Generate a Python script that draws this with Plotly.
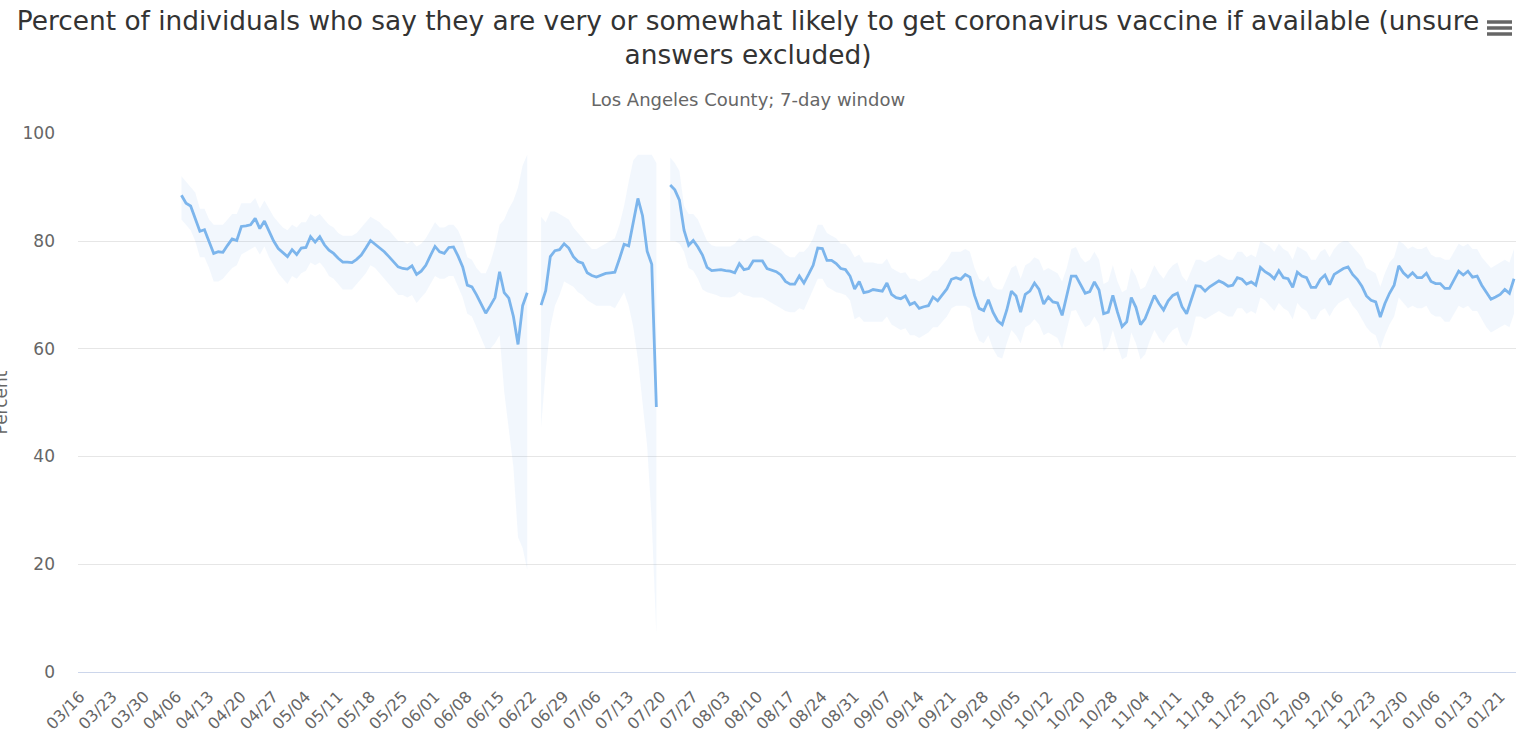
import datetime as dt
import plotly.graph_objects as go

# ---------------- categories (daily, a few days absent from the source) ----------------
start_date = dt.date(2020, 3, 16)
end_date = dt.date(2021, 1, 24)
missing_days = [dt.date(2020, 10, 16), dt.date(2020, 10, 24), dt.date(2021, 1, 17)]
categories = []
_d = start_date
while _d <= end_date:
    if _d not in missing_days:
        categories.append(_d.strftime("%m/%d"))
    _d += dt.timedelta(days=1)

tick_labels = ["03/16", "03/23", "03/30", "04/06", "04/13", "04/20", "04/27", "05/04",
               "05/11", "05/18", "05/25", "06/01", "06/08", "06/15", "06/22", "06/29",
               "07/06", "07/13", "07/20", "07/27", "08/03", "08/10", "08/17", "08/24",
               "08/31", "09/07", "09/14", "09/21", "09/28", "10/05", "10/12", "10/20",
               "10/28", "11/04", "11/11", "11/18", "11/25", "12/02", "12/09", "12/16",
               "12/23", "12/30", "01/06", "01/13", "01/21"]

# ---------------- series: segment 1 (04/07 - 06/21) ----------------
seg1_value = [88.5, 87.0, 86.5, 84.2, 81.8, 82.1, 80.0, 77.7, 78.0, 77.9,
              79.2, 80.4, 80.1, 82.7, 82.8, 83.0, 84.2, 82.3, 83.7, 81.8,
              80.0, 78.6, 77.8, 77.1, 78.4, 77.5, 78.7, 78.8, 80.8, 79.8,
              80.8, 79.3, 78.3, 77.7, 76.8, 76.1, 76.1, 76.0, 76.6, 77.4,
              78.7, 80.1, 79.4, 78.7, 78.0, 77.1, 76.2, 75.2, 74.9, 74.8,
              75.4, 73.8, 74.4, 75.5, 77.3, 79.0, 78.0, 77.7, 78.8, 78.9,
              77.2, 75.2, 71.8, 71.5, 70.0, 68.3, 66.6, 68.0, 69.5, 74.3,
              70.4, 69.4, 66.0, 60.8, 68.0, 70.4]
seg1_upper = [92, 91, 90, 89, 86, 86, 84, 83, 83, 83,
              84, 85, 85, 87, 87, 87, 88, 86, 87.5, 86,
              84.5, 83.5, 82.5, 82, 83, 82.5, 83.5, 83.5, 85, 84.5,
              85, 84, 83, 82.5, 81.5, 81, 81, 81, 81.5, 82.5,
              83.5, 84.5, 84, 83.5, 82.5, 82, 81, 80, 80, 79.5,
              80, 79, 79.5, 80.5, 82, 83.5, 82.5, 82.5, 83, 83,
              82, 80, 77, 76.5, 75, 74, 74, 76, 79, 83,
              84, 86, 87.5, 90, 94, 96]
seg1_lower = [84, 83, 82, 80, 77, 77, 75, 72.5, 72.5, 73,
              74, 75, 75.5, 77.5, 78, 78.5, 79, 77.5, 79, 77,
              75.5, 74, 73, 72, 73.5, 73, 74, 74.5, 76, 75.5,
              76, 75, 73.5, 73, 72, 71, 71, 71, 72, 73,
              74, 75.5, 75, 74, 73, 72, 71, 70, 70, 69.5,
              70, 68.5, 69.5, 70.5, 72, 73.5, 73, 73, 73.5, 73.5,
              71.5, 69.5, 66.5, 66, 64, 62, 60, 60, 61, 62.5,
              52, 45, 38, 25, 23, 19]

# ---------------- segment 2 (06/24 - 07/19) ----------------
seg2_value = [68.1, 70.8, 77.1, 78.2, 78.4, 79.5, 78.7, 77.1, 76.2, 75.9,
              74.1, 73.6, 73.3, 73.6, 74.0, 74.1, 74.2, 76.7, 79.4, 79.1,
              83.4, 87.9, 84.7, 78.1, 75.7, 49.2]
seg2_upper = [84.5, 83.5, 85.5, 85.5, 85, 84.5, 84, 82.5, 81.5, 80.5,
              79.5, 78.5, 78.5, 79, 79.5, 80, 80.5, 83, 86.5, 91,
              95, 96, 96, 96, 96, 94.5]
seg2_lower = [45.5, 56, 64, 68, 70, 72.5, 72, 71.5, 70.5, 70,
              69, 68.5, 68, 68, 68, 68, 67.5, 69, 70.5, 68,
              64, 58, 50, 42, 28, 7]

# ---------------- segment 3 (07/22 - 01/24) ----------------
seg3_value = [90.4, 89.5, 87.6, 82.0, 79.2, 80.1, 78.9, 77.4, 75.1, 74.5,
              74.6, 74.7, 74.5, 74.4, 74.1, 75.8, 74.7, 74.9, 76.3, 76.3,
              76.3, 74.9, 74.6, 74.3, 73.7, 72.5, 72.0, 72.0, 73.5, 72.2,
              73.8, 75.5, 78.7, 78.6, 76.4, 76.4, 75.8, 74.9, 74.7, 73.5,
              71.1, 72.5, 70.4, 70.6, 71.0, 70.8, 70.7, 72.2, 70.1, 69.5,
              69.3, 69.8, 68.2, 68.6, 67.5, 67.8, 68.0, 69.6, 68.9, 70.0,
              71.1, 72.9, 73.2, 72.9, 73.8, 73.3, 69.9, 67.5, 67.1, 69.1,
              66.8, 65.2, 64.5, 67.2, 70.7, 69.8, 66.8, 70.1, 70.7, 72.2,
              71.0, 68.3, 69.6, 68.7, 68.5, 66.2, 69.9, 73.5, 73.5, 71.8,
              70.3, 70.6, 72.4, 70.9, 66.5, 66.8, 69.9, 66.8, 64.1, 65.0,
              69.5, 67.7, 64.5, 65.6, 67.8, 69.9, 68.4, 67.2, 68.9, 69.9,
              70.3, 67.8, 66.5, 68.9, 71.7, 71.6, 70.7, 71.5, 72.0, 72.6,
              72.2, 71.6, 71.8, 73.2, 72.9, 72.0, 72.4, 71.8, 75.1, 74.3,
              73.8, 73.0, 74.5, 73.2, 73.0, 71.4, 74.2, 73.5, 73.2, 71.4,
              71.4, 72.9, 73.7, 71.9, 73.8, 74.4, 74.9, 75.2, 73.8, 72.9,
              71.6, 69.8, 69.0, 68.7, 65.9, 68.4, 70.3, 71.8, 75.4, 74.1,
              73.3, 74.1, 73.2, 73.2, 74.0, 72.5, 72.1, 72.1, 71.2, 71.2,
              72.9, 74.4, 73.7, 74.4, 73.3, 73.5, 71.8, 70.4, 69.2, 69.6,
              70.1, 71.0, 70.3, 73.0]
seg3_upper = [95.5, 94.5, 93, 86.5, 85, 85, 84, 82, 80, 79.2,
              79, 79, 79, 79, 79.5, 80.5, 80, 80.5, 81, 81,
              80.5, 80, 79.5, 79, 78.5, 77.5, 77, 77, 78, 78,
              79, 80.5, 83, 83, 81.5, 81, 80.5, 79.5, 79.5, 78.5,
              77, 77.5, 76, 76, 76, 75.8, 75.8, 76.7, 75, 74.5,
              74, 74.2, 73, 73, 72.5, 73, 73.5, 74.5, 74.5, 75.5,
              76.5, 78, 78, 78, 78.5, 78, 75, 73, 72.5, 73.5,
              71.5, 71, 71, 73, 75, 75.5, 73, 75.5, 76, 77,
              76.5, 74.5, 75, 74.5, 74, 72.5, 75, 78.5, 78.9, 77,
              76, 76.5, 78, 76.5, 72, 72.5, 75.5, 72.5, 70.5, 71,
              75, 73.5, 71, 71.5, 73.5, 75.5, 74, 73, 74.5, 75.5,
              76, 73.5, 72.5, 74.5, 76.5, 76.5, 76, 76.5, 77, 77.5,
              77, 76.5, 76.5, 78, 78, 77, 77.5, 77, 80, 79.5,
              79, 78, 79.5, 78.5, 78, 76.5, 79, 78.5, 78, 76.5,
              76.5, 78, 78.5, 77, 78.5, 79.5, 80, 80, 79, 78,
              77, 75, 74.5, 74, 71.5, 74, 76, 77, 80, 79.5,
              78.5, 79, 78.5, 78.5, 79, 77.5, 77, 77, 76.5, 76.5,
              78, 79.5, 79, 79.5, 78.5, 78.5, 77, 76, 75, 75.5,
              76, 76.5, 76, 78.5]
seg3_lower = [80, 80, 79.5, 78, 75, 74.5, 73, 71, 70.5, 70.3,
              70, 69.6, 69.6, 69.5, 69.8, 70.6, 70, 69.8, 69.5, 69.5,
              69.5, 69, 68.5, 68, 67.5, 67, 66.8, 66.8, 67.5, 67.2,
              69, 71, 73, 73, 71.5, 71, 70.5, 70.3, 70, 69,
              65.5, 66, 65, 65, 65, 65, 65, 66, 64.5, 64,
              63.5, 63.8, 62.5, 62.5, 62, 62.5, 63, 64, 64, 65,
              66, 67.5, 68, 68, 68, 67.5, 63.5, 61.5, 61, 62.5,
              60, 58.5, 58.2, 61, 63.5, 62.5, 61, 64, 64.5, 65.5,
              64.5, 62.5, 63, 62.5, 62, 60, 63.5, 67, 67.2, 65.5,
              64, 64.5, 66, 64.5, 59.5, 60.5, 63.5, 60.5, 58, 58.5,
              63, 61, 58, 59, 61.5, 63.5, 62, 61, 62.5, 63.5,
              64, 61.5, 60.5, 62.5, 66, 66, 65.5, 66, 66.5, 67,
              66.5, 66, 66, 67.5, 67.5, 66.5, 67, 66.5, 69.5, 69,
              68, 67, 68.5, 67.5, 67, 65.5, 68.5, 67.5, 67, 65.5,
              65.5, 67, 67.5, 66, 67.5, 68.5, 69, 69.5, 68, 67,
              65.5, 64, 63, 62.5, 60, 62.5, 64.5, 66, 69.5, 68.5,
              67.5, 68, 67.5, 67.5, 68, 66.5, 66, 66, 65, 65,
              66.5, 68, 67.5, 68, 67, 67, 65.5, 64, 63, 63.5,
              64, 64.5, 64, 66.5]

segment_starts = ["04/07", "06/24", "07/22"]
segments = [(seg1_value, seg1_upper, seg1_lower),
            (seg2_value, seg2_upper, seg2_lower),
            (seg3_value, seg3_upper, seg3_lower)]

LINE_COLOR = "#7cb5ec"
BAND_COLOR = "rgba(124,181,236,0.10)"

fig = go.Figure()
for s0, (vals, ups, lows) in zip(segment_starts, segments):
    i0 = categories.index(s0)
    xs = categories[i0:i0 + len(vals)]
    assert len(ups) == len(vals) and len(lows) == len(vals), (s0, len(vals), len(ups), len(lows))
    fig.add_trace(go.Scatter(
        x=xs + xs[::-1], y=ups + lows[::-1], fill="toself", fillcolor=BAND_COLOR,
        line=dict(width=0, color="rgba(0,0,0,0)"), mode="lines", hoverinfo="skip"))
for s0, (vals, ups, lows) in zip(segment_starts, segments):
    i0 = categories.index(s0)
    xs = categories[i0:i0 + len(vals)]
    fig.add_trace(go.Scatter(x=xs, y=vals, mode="lines",
                             line=dict(color=LINE_COLOR, width=2.8)))

W, H = 1516, 732
L, R, T, B = 78, 0, 133, 60
pw, ph = W - L - R, H - T - B


def px_x(px):
    return (px - L) / pw


def px_y(py):
    return (H - B - py) / ph


fig.update_layout(
    width=W, height=H,
    margin=dict(l=L, r=R, t=T, b=B, pad=0),
    paper_bgcolor="white", plot_bgcolor="white",
    font=dict(family="DejaVu Sans", color="#666666"),
    showlegend=False,
    title=dict(
        text="Percent of individuals who say they are very or somewhat likely to get coronavirus vaccine if available (unsure<br>answers excluded)",
        x=748 / W, xanchor="center", xref="container",
        y=1 - 30 / H, yanchor="middle", yref="container",
        font=dict(size=26.4, color="#333333", family="DejaVu Sans")),
    xaxis=dict(type="category", categoryorder="array", categoryarray=categories,
               range=[-0.43, len(categories) - 1 + 0.43],
               tickmode="array", tickvals=tick_labels, ticktext=tick_labels,
               tickangle=-45, tickfont=dict(size=16, color="#666666"),
               ticklabelstandoff=8,
               showgrid=False, showline=True, linecolor="#ccd6eb", linewidth=1,
               ticks="", zeroline=False, automargin=False),
    yaxis=dict(range=[0, 100.05], tickmode="array", tickvals=[0, 20, 40, 60, 80, 100],
               showgrid=True, gridcolor="#e6e6e6", gridwidth=1, zeroline=False,
               showline=False, tickfont=dict(size=17, color="#666666"),
               ticklabelstandoff=22, automargin=False),
    annotations=[
        dict(text="Los Angeles County; 7-day window", xref="paper", yref="paper",
             x=px_x(748), y=px_y(99), xanchor="center", yanchor="middle",
             showarrow=False, font=dict(size=18, color="#666666")),
        dict(text="Percent", xref="paper", yref="paper", x=px_x(0), y=0.5,
             xanchor="center", yanchor="middle", textangle=-90, showarrow=False,
             font=dict(size=17, color="#666666")),
    ],
    shapes=[dict(type="line", xref="paper", yref="paper",
                 x0=px_x(1487), x1=px_x(1512), y0=px_y(yy), y1=px_y(yy),
                 line=dict(color="#666666", width=3.5)) for yy in (22, 28, 34)],
)

fig.write_html("out.html", config={"displayModeBar": False},
               post_script="document.body.style.margin='0px';document.body.style.overflow='hidden';")
